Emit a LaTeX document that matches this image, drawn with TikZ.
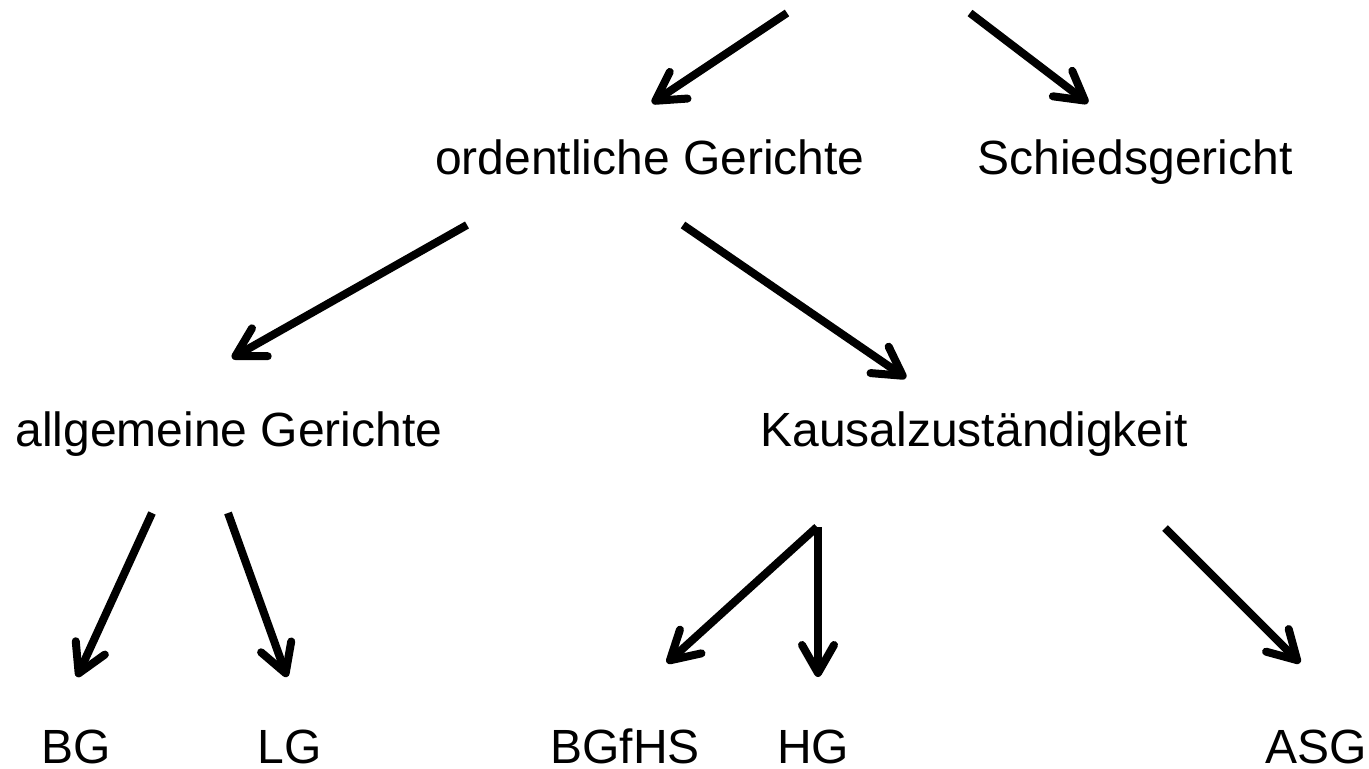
\documentclass[tikz,border=0pt]{standalone}
\usepackage{fontspec}
\setmainfont{Liberation Sans}
\usepackage{tikz}
\usetikzlibrary{calc, arrows.meta, positioning}
\tikzset{
    textnode/.style = {draw=none, fill=none, rectangle, inner sep=0em, anchor=base, text depth=0pt,
      font=\fontsize{24pt}{28pt}\selectfont},
    connect/.style = {black, line width=4pt, -{Straight Barb[length=14pt, width=16pt, round]}},
}

\begin{document}
\begin{tikzpicture}[x=0.5pt, y=-0.5pt]
    \useasboundingbox (0,0) rectangle (1369,769);
    \coordinate (rootL) at (787,13);
    \coordinate (rootR) at (970,13);

    \node [textnode, name=ord] at (650,175) {ordentliche Gerichte};
    \node [textnode, name=schied] at (1135,175) {Schiedsgericht};
    \node [textnode, name=allg] at (229,446) {allgemeine Gerichte};
    \node [textnode, name=kaus] at (974,446) {Kausalzuständigkeit};

    \node [textnode, name=BG] at (76,763) {BG};
    \node [textnode, name=LG] at (290,763) {LG};
    \node [textnode, name=BGfHS] at (625,763) {BGfHS};
    \node [textnode, name=HG] at (813,763) {HG};
    \node [textnode, name=ASG] at (1316,763) {ASG};

    \draw [connect] (rootL) -- ($(ord.base)+(2,-72)$);
    \draw [connect] (rootR) -- ($(schied.base)+(-47,-72)$);
    \draw [connect] ($(ord.base)+(-183,50)$) -- ($(allg.base)+(3,-88)$);
    \draw [connect] ($(ord.base)+(33,50)$) -- ($(kaus.base)+(-68,-68)$);

    \draw [connect] ($(allg.base)+(-77,67)$) -- ($(BG.base)+(1,-86)$);
    \draw [connect] ($(allg.base)+(-1,67)$) -- ($(LG.base)+(-3,-86)$);
    \draw [connect] ($(kaus.base)+(-157,81)$) -- ($(BGfHS.base)+(42,-100)$);
    \draw [connect] ($(kaus.base)+(-156,81)$) -- ($(HG.base)+(5,-86)$);
    \draw [connect] ($(kaus.base)+(191,82)$) -- ($(ASG.base)+(-16,-100)$);
\end{tikzpicture}
\end{document}
